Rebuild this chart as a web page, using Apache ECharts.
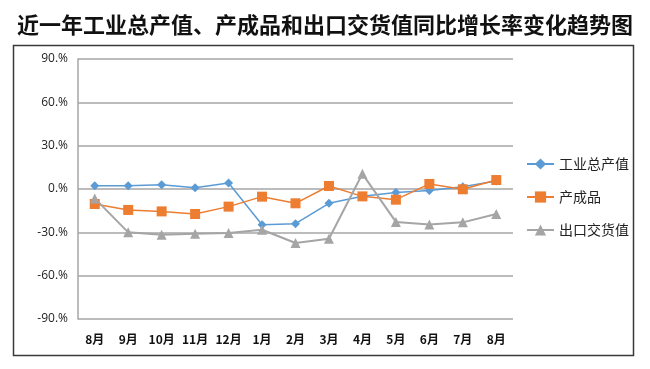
<!DOCTYPE html>
<html><head><meta charset="utf-8">
<script src="https://cdn.jsdelivr.net/npm/echarts@6/dist/echarts.min.js"></script>
<style>html,body{margin:0;padding:0;background:#fff}#c{width:650px;height:369px}</style>
</head><body><div id="c"></div>
<script>
const titleText = '近一年工业总产值、产成品和出口交货值同比增长率变化趋势图';
const categories = ['8月','9月','10月','11月','12月','1月','2月','3月','4月','5月','6月','7月','8月'];
const seriesNames = ['工业总产值','产成品','出口交货值'];
const industrialOutput = [2.3, 2.3, 3.0, 0.9, 4.2, -24.7, -24.0, -9.9, -5.0, -2.5, -1.1, 1.6, 5.5];
const finishedGoods = [-10.4, -14.5, -15.5, -17.3, -12.2, -5.3, -9.9, 2.1, -5.1, -7.4, 3.5, -0.2, 6.2];
const exportDelivery = [-6.5, -30.0, -31.6, -30.9, -30.5, -28.2, -37.4, -34.4, 10.5, -22.8, -24.5, -23.1, -17.3];
const yMin = -90, yMax = 90, yStep = 30;

const chart = echarts.init(document.getElementById('c'));
chart.setOption({
  animation: false,
  backgroundColor: '#fff',
  title: {
    text: titleText, left: 'center', top: 9,
    textStyle: {fontFamily: 'Noto Sans CJK SC', fontWeight: 'bold', fontSize: 22, color: '#111'}
  },
  graphic: [{
    type: 'rect', shape: {x: 13.5, y: 45.5, width: 620, height: 310},
    style: {fill: 'none', stroke: '#3a3a3a', lineWidth: 1.5}, silent: true
  }],
  legend: {
    orient: 'vertical', left: 521, top: 152, itemGap: 19, itemWidth: 27, itemHeight: 14,
    textStyle: {fontFamily: 'Noto Sans CJK SC', fontSize: 14, color: '#222'},
    data: seriesNames
  },
  grid: {left: 78, right: 137, top: 59, bottom: 50},
  xAxis: {
    type: 'category', data: categories, boundaryGap: true,
    axisLine: {show: false}, axisTick: {show: false},
    axisLabel: {margin: 14, fontFamily: 'Noto Sans CJK SC', fontWeight: 'bold', fontSize: 12, color: '#111', interval: 0}
  },
  yAxis: {
    type: 'value', min: yMin, max: yMax, interval: yStep,
    axisLine: {show: true, lineStyle: {color: '#a6a6a6', width: 1.5}},
    axisTick: {show: false},
    splitLine: {lineStyle: {color: '#a6a6a6', width: 1.5}},
    axisLabel: {margin: 10, fontFamily: 'Open Sans', fontSize: 12, color: '#222',
      formatter: v => v.toFixed(0) + '.%'}
  },
  series: [
    {name: seriesNames[0], type: 'line', data: industrialOutput, symbol: 'diamond', symbolSize: 9,
      itemStyle: {color: '#5b9bd5'}, lineStyle: {width: 1.5, color: '#5b9bd5'}},
    {name: seriesNames[1], type: 'line', data: finishedGoods, symbol: 'rect', symbolSize: 10,
      itemStyle: {color: '#ed7d31'}, lineStyle: {width: 1.5, color: '#ed7d31'}},
    {name: seriesNames[2], type: 'line', data: exportDelivery, symbol: 'triangle', symbolSize: 10,
      itemStyle: {color: '#a5a5a5'}, lineStyle: {width: 2, color: '#a5a5a5'}}
  ]
});
</script></body></html>
